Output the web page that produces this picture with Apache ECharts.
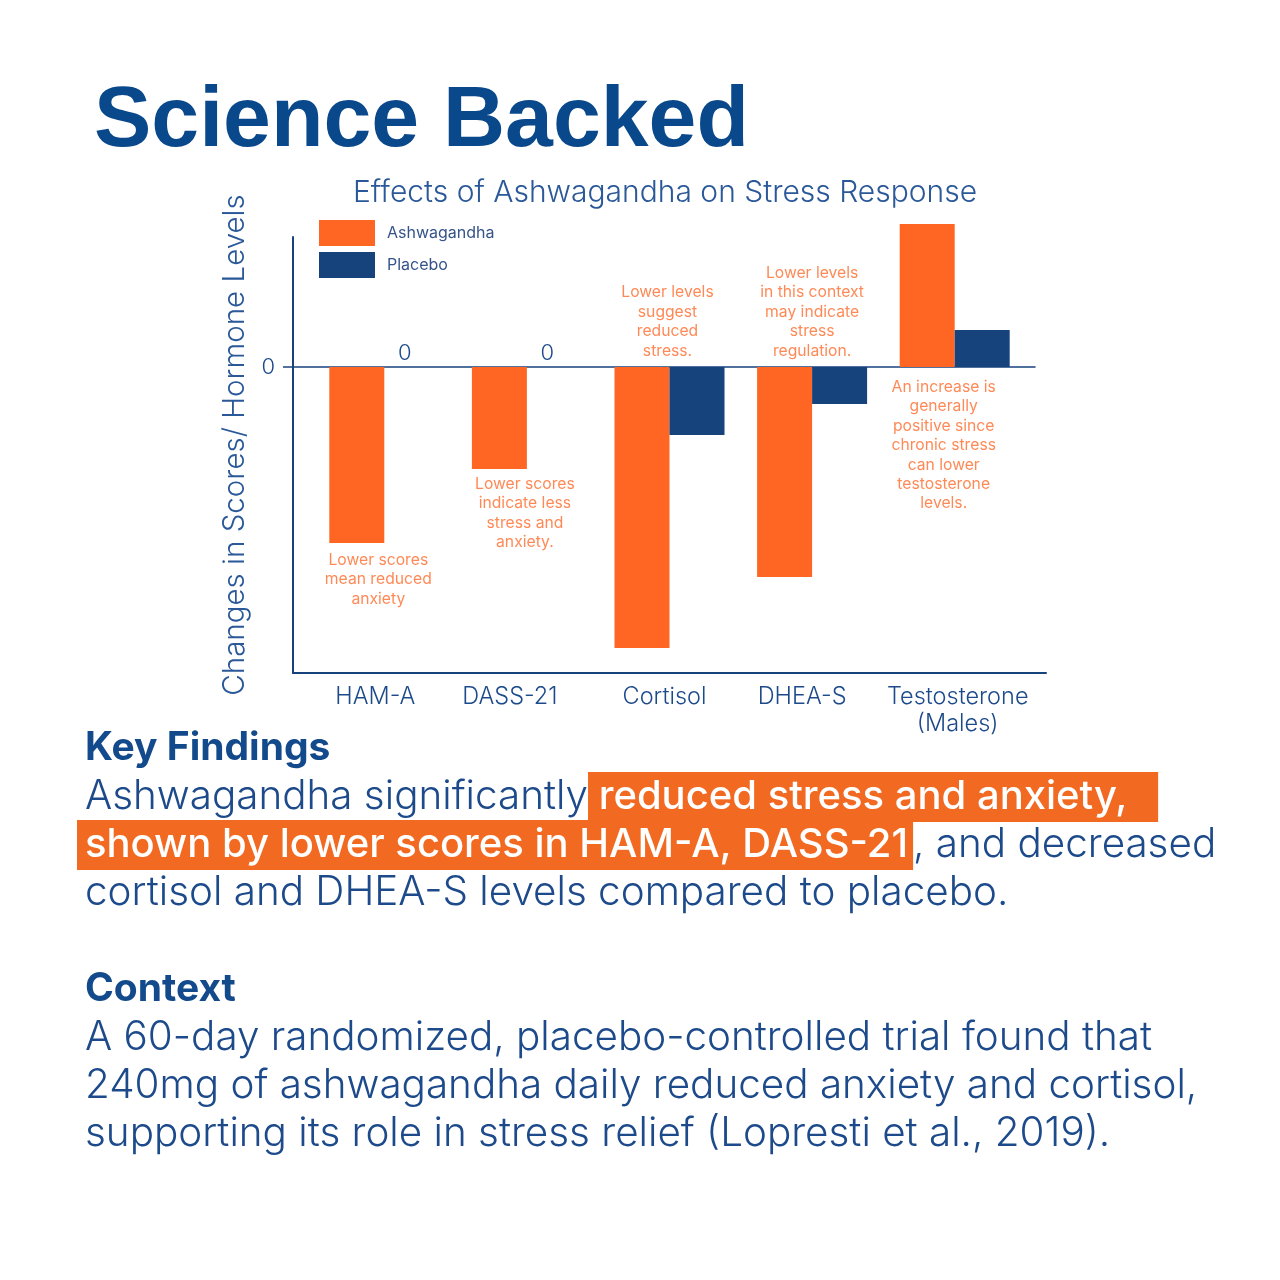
<!DOCTYPE html>
<html>
<head>
<meta charset="utf-8">
<script src="https://cdn.jsdelivr.net/npm/echarts@6/dist/echarts.min.js"></script>
<style>
  html, body { margin: 0; padding: 0; background: #ffffff; }
  #chart { width: 1280px; height: 1280px; }
</style>
</head>
<body>
<div id="chart"></div>
<script>
// ---- data ----
const categories = ['HAM-A', 'DASS-21', 'Cortisol', 'DHEA-S', 'Testosterone\n(Males)'];
const ashwagandha = [-17.6, -10.2, -28.1, -21.0, 14.3];
const placebo = [0, 0, -6.8, -3.7, 3.7];
const yTicks = [0];
const notes = [
  'Lower scores\nmean reduced\nanxiety',
  'Lower scores\nindicate less\nstress and\nanxiety.',
  'Lower levels\nsuggest\nreduced\nstress.',
  'Lower levels\nin this context\nmay indicate\nstress\nregulation.',
  'An increase is\ngenerally\npositive since\nchronic stress\ncan lower\ntestosterone\nlevels.'
];
const seriesNames = ['Ashwagandha', 'Placebo'];

// ---- styling ----
const NAVY = '#17437d';
const TEXT_NAVY = '#1c4a8a';
const ORANGE = '#ff6624';
const NOTE_ORANGE = '#ff6b2c';
const HL = '#f26a21';
const Y_MIN = -30.6, Y_MAX = 13;
const FONT = '"Inter Light", Inter, "Noto Sans", sans-serif';
const FONT_REG = 'Inter, "Noto Sans", sans-serif';

const noteSide = ['bottom', 'bottom', 'top', 'top', 'bottom'];
const noteAnchorFromBar = [true, true, false, false, false];
const noteDx = [-6, -2, -2, 0, -11];
const noteDist = [7, 5, 6, 6, 10];
const labelShift = [-9, -17, -5, -10, 3];

const chart = echarts.init(document.getElementById('chart'), null, { renderer: 'canvas' });

const catRich = {};
labelShift.forEach((s, i) => {
  catRich['c' + i] = {
    fontFamily: FONT, fontSize: 23.5, fontWeight: 300, color: TEXT_NAVY, lineHeight: 27,
    padding: s < 0 ? [0, -2 * s, 0, 0] : [0, 0, 0, 2 * s]
  };
});

const noteData = categories.map((c, i) => ({
  value: [i, noteAnchorFromBar[i] ? ashwagandha[i] : 0],
  label: {
    show: true,
    position: noteSide[i],
    distance: noteDist[i],
    offset: [noteDx[i], 0],
    formatter: notes[i]
  }
}));

const option = {
  backgroundColor: '#ffffff',
  animation: false,
  title: {
    text: 'Effects of Ashwagandha on Stress Response',
    left: 348, top: 173,
    textStyle: { fontFamily: FONT, fontSize: 30, fontWeight: 300, color: '#2a5898' }
  },
  legend: {
    data: seriesNames,
    orient: 'vertical',
    left: 319, top: 220, padding: 0,
    icon: 'rect',
    itemWidth: 56, itemHeight: 26, itemGap: 6,
    textStyle: { fontFamily: FONT_REG, fontSize: 16, color: '#34548a', padding: [0, 0, 0, 7] }
  },
  grid: [
    { left: 313, right: 254, top: 237, bottom: 607 },
    { left: 293, right: 234, top: 237, bottom: 607 },
    { left: 293, right: 245, top: 237, bottom: 607 }
  ],
  xAxis: [
    {
      type: 'category', gridIndex: 0, data: categories,
      axisLine: { show: false }, axisTick: { show: false },
      axisLabel: {
        margin: 10,
        formatter: (v, i) => v.split('\n').map(l => '{c' + i + '|' + l + '}').join('\n'),
        rich: catRich
      }
    },
    {
      type: 'value', gridIndex: 1, min: 0, max: 1,
      axisLine: { show: true, onZero: false, lineStyle: { color: NAVY, width: 2 } },
      axisTick: { show: false }, axisLabel: { show: false }, splitLine: { show: false }
    },
    {
      type: 'value', gridIndex: 2, min: 0, max: 1,
      axisLine: { show: true, onZero: true, lineStyle: { color: NAVY, width: 1.5 } },
      axisTick: { show: false }, axisLabel: { show: false }, splitLine: { show: false }
    }
  ],
  yAxis: [
    { type: 'value', gridIndex: 0, min: Y_MIN, max: Y_MAX, show: false },
    {
      type: 'value', gridIndex: 1, min: Y_MIN, max: Y_MAX,
      axisLine: { show: true, onZero: false, lineStyle: { color: NAVY, width: 2 } },
      axisTick: { show: true, customValues: yTicks, length: 10, lineStyle: { color: NAVY, width: 1.5 } },
      axisLabel: { show: true, customValues: yTicks, margin: 18, fontFamily: FONT, fontSize: 22, fontWeight: 300, color: TEXT_NAVY },
      splitLine: { show: false },
      name: 'Changes in Scores/ Hormone Levels',
      nameLocation: 'middle', nameRotate: 90, nameGap: 34,
      nameTextStyle: { fontFamily: FONT, fontSize: 29.5, fontWeight: 300, color: '#2a5898', padding: [0, 0, 0, 20] }
    },
    { type: 'value', gridIndex: 2, min: Y_MIN, max: Y_MAX, show: false }
  ],
  series: [
    {
      name: seriesNames[0], type: 'bar', xAxisIndex: 0, yAxisIndex: 0,
      data: ashwagandha, barWidth: 55, barGap: '0%', clip: false,
      itemStyle: { color: ORANGE }
    },
    {
      name: seriesNames[1], type: 'bar', xAxisIndex: 0, yAxisIndex: 0,
      data: placebo, barWidth: 55, barGap: '0%', clip: false,
      itemStyle: { color: NAVY },
      label: {
        show: true, position: 'top', distance: 3, offset: [-7, 0],
        formatter: p => (p.value === 0 ? '0' : ''),
        fontFamily: FONT, fontSize: 22, fontWeight: 300, color: TEXT_NAVY
      }
    },
    {
      name: 'notes', type: 'scatter', xAxisIndex: 0, yAxisIndex: 0,
      symbolSize: 1, itemStyle: { color: 'rgba(0,0,0,0)' }, silent: true,
      label: { fontFamily: FONT_REG, fontSize: 15.7, lineHeight: 19.4, color: NOTE_ORANGE, align: 'center' },
      data: noteData, z: 5
    }
  ],
  graphic: (function () {
    const base = { fontFamily: FONT, fontSize: 40.4, lineHeight: 48 };
    const hlBase = { fontFamily: FONT_REG, fontSize: 40, lineHeight: 48, fill: '#ffffff', fontWeight: 500, backgroundColor: HL };
    const rich = {
      n: Object.assign({}, base, { fill: TEXT_NAVY, fontWeight: 300 }),
      h2: Object.assign({}, hlBase, { padding: [5, 20, 5, 0] }),
      h3: Object.assign({}, hlBase, { padding: [5, 5, 5, 8] })
    };
    const line = (x, y, text) => ({
      type: 'text', x: x, y: y,
      style: { text: text, rich: rich, verticalAlign: 'middle', align: 'left', fontFamily: FONT, fontSize: 40, fill: TEXT_NAVY }
    });
    const heading = (y, text) => ({
      type: 'text', x: 85, y: y,
      style: { text: text, fontFamily: FONT_REG, fontSize: 39, fontWeight: 700, fill: '#134a8c', verticalAlign: 'middle' }
    });
    return [
      {
        type: 'text', x: 94, y: 122,
        style: { text: 'Science Backed', fontFamily: '"Liberation Sans", Arial, sans-serif', fontSize: 86, fontWeight: 700, fill: '#0a488c', verticalAlign: 'middle' }
      },
      heading(748, 'Key Findings'),
      line(85, 797, '{n|Ashwagandha significantly}{h2| reduced stress and anxiety, }'),
      line(77, 845, '{h3|shown by lower scores in HAM-A, DASS-21}{n|, and decreased}'),
      line(85, 893, '{n|cortisol and DHEA-S levels compared to placebo.}'),
      heading(989, 'Context'),
      line(85, 1038, '{n|A 60-day randomized, placebo-controlled trial found that}'),
      line(85, 1086, '{n|240mg of ashwagandha daily reduced anxiety and cortisol,}'),
      line(85, 1134, '{n|supporting its role in stress relief (Lopresti et al., 2019).}')
    ];
  })()
};

chart.setOption(option);
</script>
</body>
</html>
